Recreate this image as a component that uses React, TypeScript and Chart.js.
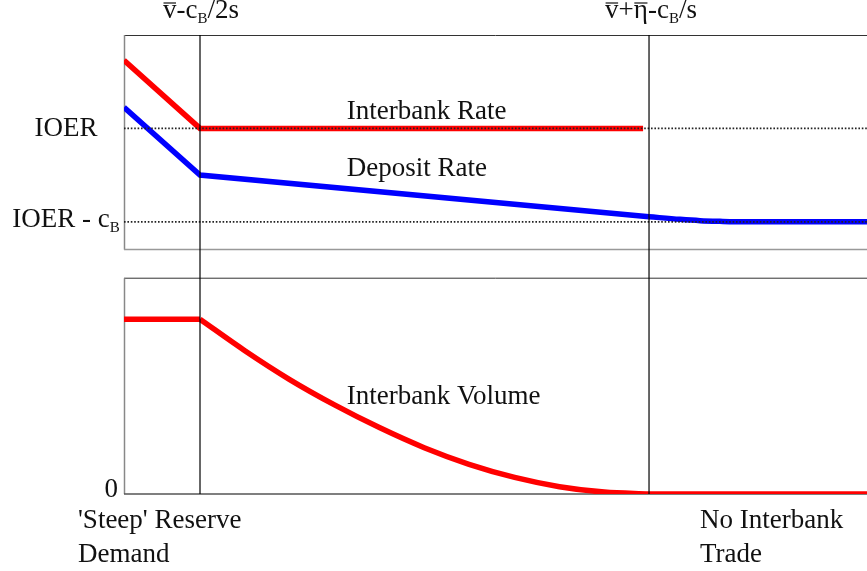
import React, { useEffect, useRef } from 'react';
import { Chart, registerables } from 'chart.js';

Chart.register(...registerables);

// ---- axis ranges (x: reserves, yRate: rates, yVol: volume) ----
const X_MIN = 0;
const X_KINK = 1; // v̄ - c_B/2s
const X_ZERO = 6.908; // v̄ + η̄ - c_B/s
const X_MAX = 9.776;
const RATE_MIN = -2.915;
const RATE_MAX = 2.0;
const VOL_MIN = 0;
const VOL_MAX = 2.627;
const TOP_PANEL_BOTTOM = -0.298; // in rate units
const BOTTOM_PANEL_TOP = 1.235; // in volume units

const IOER = 1;
const IOER_MINUS_CB = 0;

// ---- series ----
const interbankRateX = [0, 1, 6.83];
const interbankRateY = [1.73, 1.0, 1.0];

const depositLinearX = [0, 1, 6.908];
const depositLinearY = [1.225, 0.5, 0.054];
const depositTailX = [6.908, 7.316, 7.58, 7.84, 8.17, 9.776];
const depositTailY = [0.054, 0.026, 0.012, 0.005, 0, 0];

const volumeFlatX = [0, 1];
const volumeFlatY = [1, 1];
const volumeCurveX = [1, 1.59, 2.18, 2.77, 3.36, 3.95, 4.54, 5.14, 5.73, 6.32, 6.908];
const volumeCurveY = [1, 0.82, 0.655, 0.51, 0.38, 0.265, 0.17, 0.095, 0.042, 0.011, 0];
const volumeTailX = [6.908, 9.776];
const volumeTailY = [0, 0];

const FF = "'Liberation Serif', 'Times New Roman', serif";
const FS = 27;
const SUB_FS = 15;

const pts = (xs: number[], ys: number[]) => xs.map((x, i) => ({ x, y: ys[i] }));

type Part = { t: string; sub?: boolean; bar?: boolean };

function drawRich(ctx: CanvasRenderingContext2D, parts: Part[], x: number, y: number, align: 'left' | 'center' | 'right') {
  const widths = parts.map((p) => {
    ctx.font = `${p.sub ? SUB_FS : FS}px ${FF}`;
    return ctx.measureText(p.t).width;
  });
  const total = widths.reduce((a, b) => a + b, 0);
  let cx = align === 'left' ? x : align === 'center' ? x - total / 2 : x - total;
  ctx.textAlign = 'left';
  ctx.textBaseline = 'alphabetic';
  parts.forEach((p, i) => {
    ctx.font = `${p.sub ? SUB_FS : FS}px ${FF}`;
    ctx.fillText(p.t, cx, p.sub ? y + 5 : y);
    if (p.bar) {
      ctx.save();
      ctx.strokeStyle = '#111';
      ctx.lineWidth = 1.2;
      ctx.beginPath();
      ctx.moveTo(cx + 0.5, y - 15);
      ctx.lineTo(cx + widths[i] - 0.5, y - 15);
      ctx.stroke();
      ctx.restore();
    }
    cx += widths[i];
  });
}

const framePlugin = {
  id: 'frames',
  beforeDatasetsDraw(chart: any) {
    const { ctx, chartArea, scales } = chart;
    const rate = scales.yRate;
    const vol = scales.yVol;
    const left = chartArea.left;
    const right = chartArea.right;
    const tTop = rate.getPixelForValue(RATE_MAX);
    const tBot = rate.getPixelForValue(TOP_PANEL_BOTTOM);
    const bTop = vol.getPixelForValue(BOTTOM_PANEL_TOP);
    const bBot = vol.getPixelForValue(VOL_MIN);
    const line = (x1: number, y1: number, x2: number, y2: number, color: string, w: number) => {
      ctx.save();
      ctx.strokeStyle = color;
      ctx.lineWidth = w;
      ctx.beginPath();
      ctx.moveTo(x1, y1);
      ctx.lineTo(x2, y2);
      ctx.stroke();
      ctx.restore();
    };
    line(left, tTop + 0.5, right, tTop + 0.5, '#333', 1);
    line(left + 0.5, tTop, left + 0.5, tBot, '#888', 1.5);
    line(left, tBot, right, tBot, '#999', 1.5);
    line(left, bTop, right, bTop, '#333', 1);
    line(left + 0.5, bTop, left + 0.5, bBot, '#888', 1.5);
    line(left, bBot, right, bBot, '#555', 1.5);
  },
  afterDraw(chart: any) {
    const { ctx, scales } = chart;
    const xs = scales.x;
    const rate = scales.yRate;
    const vol = scales.yVol;
    ctx.save();
    ctx.fillStyle = '#111';
    const labelX = xs.getPixelForValue(2.93);
    drawRich(ctx, [{ t: 'Interbank Rate' }], labelX, rate.getPixelForValue(IOER) - 9, 'left');
    drawRich(ctx, [{ t: 'Deposit Rate' }], labelX, rate.getPixelForValue(0.49), 'left');
    drawRich(ctx, [{ t: 'Interbank Volume' }], labelX, vol.getPixelForValue(0.515), 'left');

    drawRich(ctx, [{ t: 'IOER' }], 66, rate.getPixelForValue(IOER) + 8, 'center');
    drawRich(ctx, [{ t: 'IOER - c' }, { t: 'B', sub: true }], 66, rate.getPixelForValue(IOER_MINUS_CB) + 5, 'center');
    drawRich(ctx, [{ t: '0' }], 118, vol.getPixelForValue(VOL_MIN) + 3, 'right');

    drawRich(ctx, [{ t: 'v', bar: true }, { t: '-c' }, { t: 'B', sub: true }, { t: '/2s' }], xs.getPixelForValue(X_KINK) + 1, 18, 'center');
    drawRich(
      ctx,
      [{ t: 'v', bar: true }, { t: '+' }, { t: 'η', bar: true }, { t: '-c' }, { t: 'B', sub: true }, { t: '/s' }],
      xs.getPixelForValue(X_ZERO) + 2,
      18,
      'center'
    );

    drawRich(ctx, [{ t: "'Steep' Reserve" }], 78, 528, 'left');
    drawRich(ctx, [{ t: 'Demand' }], 78, 562, 'left');
    drawRich(ctx, [{ t: 'No Interbank' }], 700, 528, 'left');
    drawRich(ctx, [{ t: 'Trade' }], 700, 562, 'left');
    ctx.restore();
  },
};

export default function App() {
  const ref = useRef<HTMLCanvasElement | null>(null);
  useEffect(() => {
    if (!ref.current) return;
    const RED = '#ff0000';
    const BLUE = '#0000ff';
    const solid = (data: any[], color: string, axis: string, monotone = false) => ({
      data,
      borderColor: color,
      borderWidth: 5.5,
      pointRadius: 0,
      fill: false,
      yAxisID: axis,
      order: 2,
      cubicInterpolationMode: monotone ? 'monotone' : 'default',
      tension: 0,
    });
    const dotted = (y: number) => ({
      data: [{ x: X_MIN, y }, { x: X_MAX, y }],
      borderColor: '#222',
      borderWidth: 1.8,
      borderDash: [1.6, 1.8],
      pointRadius: 0,
      fill: false,
      yAxisID: 'yRate',
      order: 1,
    });
    const vertical = (x: number) => ({
      data: [{ x, y: VOL_MIN }, { x, y: VOL_MAX }],
      borderColor: '#000',
      borderWidth: 1.2,
      pointRadius: 0,
      fill: false,
      yAxisID: 'yVol',
      order: 0,
    });
    const chart = new Chart(ref.current, {
      type: 'line',
      data: {
        datasets: [
          solid(pts(interbankRateX, interbankRateY), RED, 'yRate'),
          solid(pts(depositLinearX, depositLinearY), BLUE, 'yRate'),
          solid(pts(depositTailX, depositTailY), BLUE, 'yRate', true),
          solid(pts(volumeFlatX, volumeFlatY), RED, 'yVol'),
          solid(pts(volumeCurveX, volumeCurveY), RED, 'yVol', true),
          solid(pts(volumeTailX, volumeTailY), RED, 'yVol'),
          dotted(IOER),
          dotted(IOER_MINUS_CB),
          vertical(X_KINK),
          vertical(X_ZERO),
        ] as any,
      },
      options: {
        animation: false,
        responsive: false,
        events: [],
        layout: { padding: { left: 124, top: 35, right: 0, bottom: 77 } },
        plugins: { legend: { display: false }, tooltip: { enabled: false } },
        scales: {
          x: { type: 'linear', min: X_MIN, max: X_MAX, display: false },
          yRate: { type: 'linear', min: RATE_MIN, max: RATE_MAX, display: false },
          yVol: { type: 'linear', min: VOL_MIN, max: VOL_MAX, display: false },
        },
      } as any,
      plugins: [framePlugin],
    });
    return () => chart.destroy();
  }, []);
  return (
    <div style={{ position: 'fixed', left: 0, top: 0, width: 867, height: 571, background: '#fff' }}>
      <canvas ref={ref} width={867} height={571} style={{ display: 'block' }} />
    </div>
  );
}
